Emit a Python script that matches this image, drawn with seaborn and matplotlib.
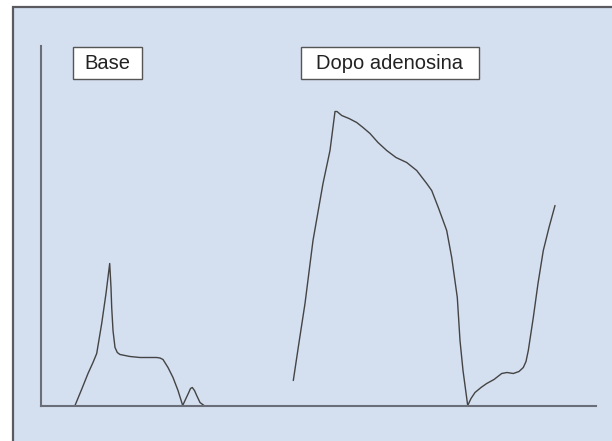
"""
Flusso coronarico: base vs dopo adenosina
"""
import matplotlib
matplotlib.use("Agg")
import matplotlib.pyplot as plt
import seaborn as sns
import pandas as pd
from matplotlib.patches import Rectangle

# --- dati (tempo, velocità) ---
base_t = [34, 41, 47, 52, 55.7, 60.7, 65, 68.7, 70, 70.7, 72, 74, 76.3, 79, 89, 99, 107, 115.7,
          119, 122, 127, 132, 137, 139.5, 141.7, 144, 147.3, 149.5, 151.3, 153.5, 155.7, 159, 163]
base_v = [0, 17, 32, 43, 52, 82, 112, 142, 118, 98, 75, 58, 53, 51, 49, 48, 48, 48,
          47.5, 46, 38, 28, 15, 7, 0, 5, 12, 17, 18, 15, 10, 3, 0]

dopo_t = [252.3, 258, 264, 272, 282, 289, 294, 296, 300.7, 308, 315.7, 322, 329, 337, 345.7,
          355, 365.7, 375.7, 385.7, 390.7, 397.3, 405.7, 410.7, 416.3, 419, 422, 426.7,
          430, 434, 440, 445.7, 453, 460.7, 466, 472.3, 478, 482.3, 485, 487.3, 492.3,
          497, 502.3, 508, 514]
dopo_v = [25, 63, 102, 165, 222, 255, 294, 294, 290, 287, 283, 278, 272, 263, 255,
          248, 243, 235, 222, 215, 198, 175, 148, 108, 65, 35, 0,
          7, 13, 18, 22, 26, 32, 33, 32, 34, 38, 44, 55, 88,
          122, 155, 178, 200]

labels = ["Base", "Dopo adenosina"]
label_x = [(32, 101), (260, 438)]

sns.set_style("white")
plt.rcParams['font.family'] = ['Liberation Sans', 'DejaVu Sans']

W, H = 612, 441
fig = plt.figure(figsize=(W / 100, H / 100), dpi=100)
fig.patch.set_facecolor('white')

# riquadro di sfondo
fig.add_artist(Rectangle((13 / W, -0.1), 1.2, (H - 7) / H + 0.1, transform=fig.transFigure,
                         facecolor='#d4dff0', edgecolor='#5a5a5f', linewidth=1.6, zorder=-1))

ax = fig.add_axes([41 / W, (H - 405.5) / H, 555 / W, 359.5 / H])
ax.patch.set_visible(False)

df_base = pd.DataFrame({'t': base_t, 'v': base_v})
df_dopo = pd.DataFrame({'t': dopo_t, 'v': dopo_v})
sns.lineplot(data=df_base, x='t', y='v', sort=False, color='#444444', linewidth=1.0, ax=ax)
sns.lineplot(data=df_dopo, x='t', y='v', sort=False, color='#444444', linewidth=1.0, ax=ax)

ax.set_xlim(0, 555)
ax.set_ylim(0, 359.5)
ax.set_xticks([])
ax.set_yticks([])
ax.set_xlabel('')
ax.set_ylabel('')
for s in ['top', 'right']:
    ax.spines[s].set_visible(False)
for s in ['left', 'bottom']:
    ax.spines[s].set_color('#6a6e78')
    ax.spines[s].set_linewidth(1.5)

# etichette nei riquadri
for lab, (x0, x1) in zip(labels, label_x):
    ax.add_patch(Rectangle((x0, 326), x1 - x0, 32.5, facecolor='white', edgecolor='#555555',
                           linewidth=1.0, clip_on=False))
    ax.text((x0 + x1) / 2, 341.5, lab, ha='center', va='center', fontsize=14.5, color='#222222')

plt.savefig('out.png', dpi=100)
